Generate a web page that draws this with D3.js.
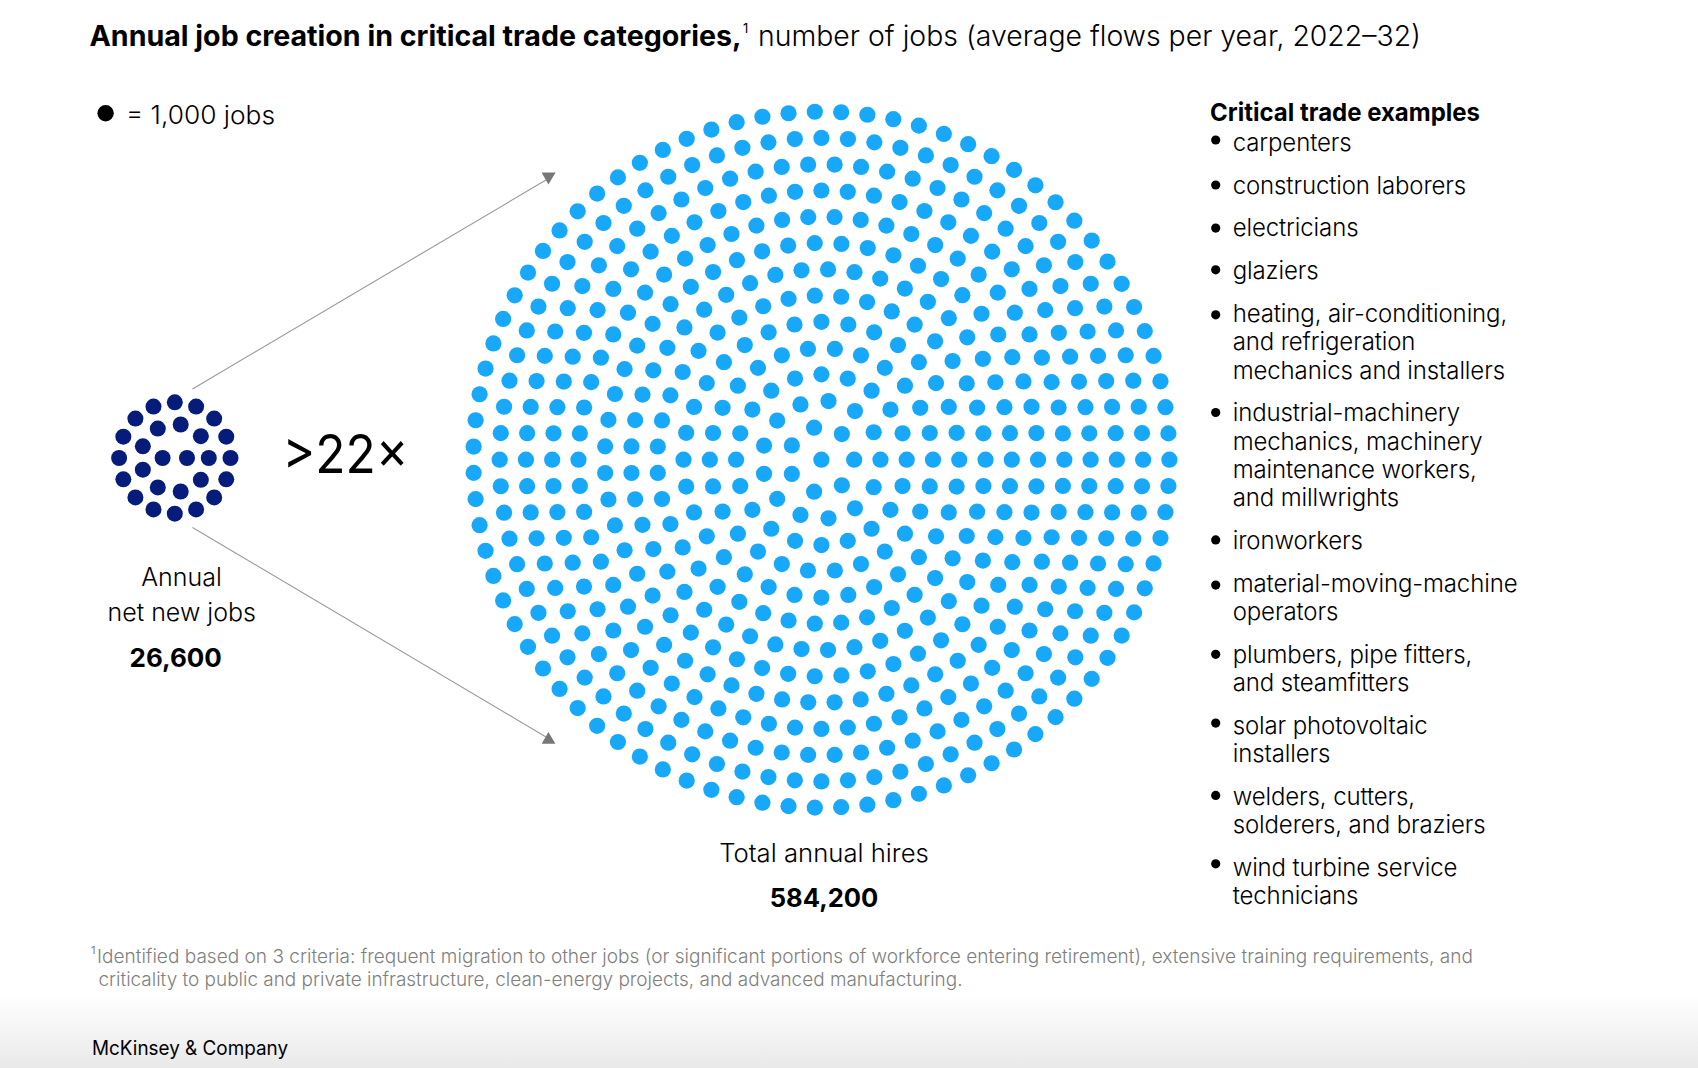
<!DOCTYPE html>
<html>
<head>
<meta charset="utf-8">
<script src="https://cdn.jsdelivr.net/npm/d3@7"></script>
<style>
html,body{margin:0;padding:0;background:#fff;overflow:hidden}
svg{display:block}
text{font-family:Inter,"Noto Sans",sans-serif;fill:#000;font-kerning:normal}
</style>
</head>
<body>
<div id="chart"></div>
<script>
const titleBold = "Annual job creation in critical trade categories,";
const titleNote = "1";
const titleRest = "number of jobs (average flows per year, 2022\u201332)";
const legendText = "= 1,000 jobs";
const ratioText = ">22\u00d7";
const smallLabel = ["Annual", "net new jobs"];
const smallValue = "26,600";
const bigLabel = "Total annual hires";
const bigValue = "584,200";
const listHeader = "Critical trade examples";
const listItems = [
  ["carpenters"],
  ["construction laborers"],
  ["electricians"],
  ["glaziers"],
  ["heating, air-conditioning,", "and refrigeration", "mechanics and installers"],
  ["industrial-machinery", "mechanics, machinery", "maintenance workers,", "and millwrights"],
  ["ironworkers"],
  ["material-moving-machine", "operators"],
  ["plumbers, pipe fitters,", "and steamfitters"],
  ["solar photovoltaic", "installers"],
  ["welders, cutters,", "solderers, and braziers"],
  ["wind turbine service", "technicians"]
];
const footnote = [
  "Identified based on 3 criteria: frequent migration to other jobs (or significant portions of workforce entering retirement), extensive training requirements, and",
  "criticality to public and private infrastructure, clean-energy projects, and advanced manufacturing."
];
const brand = "McKinsey & Company";
// dots per concentric ring, innermost first (1 dot = 1,000 jobs)
const smallRingCounts = [0, 2, 9, 16];
const bigRingCounts = [1, 7, 13, 20, 26, 32, 39, 45, 51, 58, 64, 70, 76, 83];

const W = 1698, H = 1068;
const svg = d3.select("#chart").append("svg").attr("width", W).attr("height", H);
const defs = svg.append("defs");
const grad = defs.append("linearGradient").attr("id","fade").attr("x1",0).attr("x2",0).attr("y1",0).attr("y2",1);
grad.append("stop").attr("offset",0).attr("stop-color","#fff");
grad.append("stop").attr("offset",1).attr("stop-color","#e9e9e9");
svg.append("rect").attr("x",0).attr("y",995).attr("width",W).attr("height",H-995).attr("fill","url(#fade)");

function fitText(sel, width){
  if(width) sel.attr("textLength",width).attr("lengthAdjust","spacingAndGlyphs");
  return sel;
}
function label(str,x,y,size,weight,opt){
  opt=opt||{};
  const t = svg.append("text").attr("x",x).attr("y",y).text(str)
    .style("font-size",size+"px").style("font-weight",weight)
    .attr("text-anchor",opt.anchor||"start").style("fill",opt.fill||"#000");
  if(opt.spacing) t.style("letter-spacing",opt.spacing+"px");
  return fitText(t,opt.width);
}
function ringDots(counts, radiusScale){
  return counts.flatMap((n,ring)=>{
    const angle = d3.scaleLinear().domain([0,n]).range([0,2*Math.PI]);
    return d3.range(n).map(i=>({r:radiusScale(ring),a:angle(i)}));
  });
}
function drawDots(counts, radiusScale, cx, cy, dotR, color, cls){
  svg.append("g").attr("class",cls).attr("transform",`translate(${cx},${cy})`)
    .selectAll("circle").data(ringDots(counts,radiusScale)).join("circle")
    .attr("cx",d=>d.r*Math.cos(d.a)).attr("cy",d=>-d.r*Math.sin(d.a))
    .attr("r",dotR).attr("fill",color);
}
const bigR = d3.scaleLinear().domain([0,1,13]).range([0,32.8,348]);
const smallR = d3.scaleLinear().domain([1,2,3]).range([12.2,34,55.7]);
drawDots(bigRingCounts,bigR,821.4,459.7,8.1,"#18A8F9","big");
drawDots(smallRingCounts,smallR,174.8,458,8,"#051C7A","small");

// connector arrows
const arrows = [
  {x1:192.5,y1:389,x2:546,y2:180},
  {x1:192.5,y1:527.5,x2:546,y2:737}
];
svg.append("g").selectAll("line").data(arrows).join("line")
  .attr("x1",d=>d.x1).attr("y1",d=>d.y1).attr("x2",d=>d.x2).attr("y2",d=>d.y2)
  .attr("stroke","#999").attr("stroke-width",1.1);
svg.append("path").attr("d","M541.6,172.6L555.6,172.6L548.4,184.5Z").attr("fill","#777");
svg.append("path").attr("d","M541.7,743.7L555.4,743.7L548.4,732Z").attr("fill","#777");

// title
label(titleBold,89.5,46,28,650,{width:652});
label(titleNote,743,33,13,400);
label(titleRest,758,46,28,300,{width:663});

// legend
svg.append("circle").attr("cx",105.6).attr("cy",113.3).attr("r",8.2).attr("fill","#000");
label(legendText,126,124,25.5,300,{width:149});

label(ratioText,282.5,472.5,54,400,{width:126});

label(smallLabel[0],181.5,585.7,25,300,{anchor:"middle"});
label(smallLabel[1],181.7,620.7,25,300,{anchor:"middle"});
label(smallValue,175.7,667,26,650,{anchor:"middle"});
label(bigLabel,824,862,25.7,300,{anchor:"middle"});
label(bigValue,824,906.5,25.6,650,{anchor:"middle"});

// list
label(listHeader,1210,120.5,24.5,650,{width:270});
let y = 151;
const bulletLift = [11, 8.7, 8.3, 9.3, 7, 8.7, 9, 6.6, 8.4, 10.7, 9.4, 12];
listItems.forEach((lines,k)=>{
  svg.append("circle").attr("cx",1215.7).attr("cy",y-bulletLift[k]).attr("r",4.6).attr("fill","#000");
  lines.forEach(l=>{
    label(l,1232.7,y,24,300,{spacing:-0.12});
    y += 28.35;
  });
  y += 14.35;
});

// footnote
label("1",91,954,11,400,{fill:"#7f7f7f"});
label(footnote[0],97,962.7,19,300,{fill:"#7f7f7f",width:1376});
label(footnote[1],98.5,985.7,19,300,{fill:"#7f7f7f",width:864});
label(brand,92,1055,20,400,{width:196});
</script>
</body>
</html>
